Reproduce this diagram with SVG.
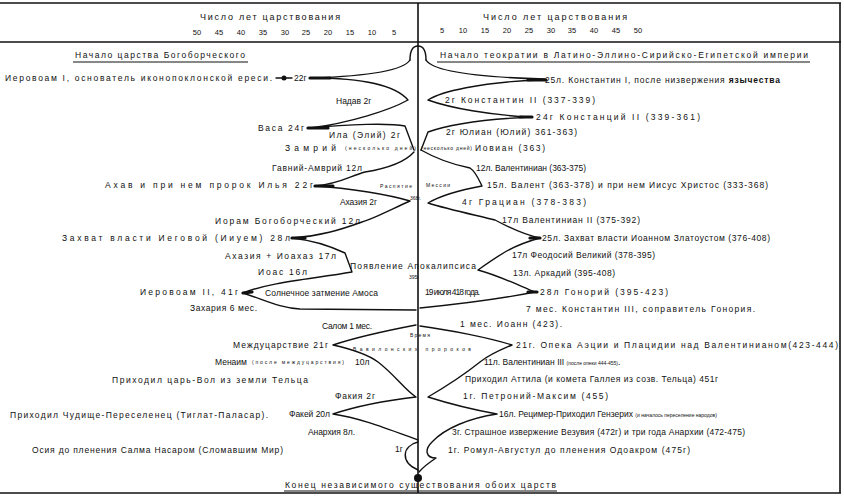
<svg xmlns="http://www.w3.org/2000/svg" width="844" height="502" viewBox="0 0 844 502">
<style>
text{font-family:"Liberation Sans",Arial,sans-serif;font-size:8.5px;fill:#111;}
.h{font-size:9px;}
.n{font-size:7.5px;text-anchor:middle;}
.s{font-size:5px;}
.b{font-weight:bold;}
.frame{stroke:#111;stroke-width:1.6;fill:none;}
.ln{stroke:#111;stroke-width:1.4;fill:none;stroke-linecap:round;stroke-linejoin:round;}
.stub{stroke:#111;stroke-width:3.2;fill:none;stroke-linecap:round;}
.ul{stroke:#111;stroke-width:1.2;}
</style>
<rect width="844" height="502" fill="#fff"/>

<g id="frame">
<line class="frame" x1="0" y1="3" x2="841" y2="3"/>
<line class="frame" x1="0" y1="42" x2="841" y2="42"/>
<line class="frame" x1="0" y1="493" x2="841" y2="493"/>
<line class="frame" x1="840" y1="3" x2="840" y2="493"/>
<line class="frame" x1="418" y1="3" x2="418" y2="493" stroke-width="1.2"/>
</g>

<g id="scale-left">
<text class="h" x="200" y="20" textLength="140" lengthAdjust="spacing">Число лет царствования</text>
<text class="n" x="197" y="35">50</text><text class="n" x="219" y="35">45</text><text class="n" x="241" y="35">40</text><text class="n" x="263" y="35">35</text><text class="n" x="285" y="35">30</text><text class="n" x="306" y="35">25</text><text class="n" x="328" y="35">20</text><text class="n" x="350" y="35">15</text><text class="n" x="372" y="35">10</text><text class="n" x="394" y="35">5</text>
</g>
<g id="scale-right">
<text class="h" x="483" y="20" textLength="144" lengthAdjust="spacing">Число лет царствования</text>
<text class="n" x="442" y="33">5</text><text class="n" x="463" y="33">10</text><text class="n" x="485" y="33">15</text><text class="n" x="507" y="33">20</text><text class="n" x="529" y="33">25</text><text class="n" x="551" y="33">30</text><text class="n" x="572" y="33">35</text><text class="n" x="594" y="33">40</text><text class="n" x="616" y="33">45</text><text class="n" x="638" y="33">50</text>
</g>

<g id="head-left">
<text x="75" y="58" textLength="170" lengthAdjust="spacing">Начало царства Богоборческого</text>
<line class="ul" x1="73" y1="62" x2="248" y2="62"/>
</g>
<g id="head-right">
<text x="440" y="58" textLength="368" lengthAdjust="spacing">Начало теократии в Латино-Эллино-Сирийско-Египетской империи</text>
<line class="ul" x1="437" y1="62" x2="810" y2="62"/>
</g>

<g id="connectors">
<path class="ln" d="M410,60 C410,50 413,46 418,46 C423,46 426,50 426,60"/>
<!-- left outline -->
<path class="ln" d="M410,60 C404,70 370,76 312,78"/>
<path class="ln" d="M312,78 C365,78 396,86 408,100 C390,110 350,123 310,128 C350,124 390,123 405,126 L414,150"/>
<path class="ln" d="M414,152 C405,162 390,168 365,172 C350,176 340,184 315,186 C350,188 390,195 410,201 C390,210 375,218 362,222 C340,230 320,236 292,238 C310,240 330,246 345,253 L352,272 C312,279 270,282 243,293 C265,300 280,308 300,309 L416,310"/>
<path class="ln" d="M416,325 C395,329 360,336 333,345 C355,350 370,356 378,362 C395,375 405,390 416,397 C390,400 360,405 333,414 C360,418 385,428 418,440"/>
<path class="ln" d="M418,442 C402,446 400,462 418,470"/>
<!-- right outline -->
<path class="ln" d="M426,60 C432,70 470,77 545,79"/>
<path class="ln" d="M540,80 C480,82 440,92 428,100 C450,108 490,115 530,117 C490,119 450,124 428,132 L421,150"/>
<path class="ln" d="M421,150 C435,158 455,165 470,168 C476,172 479,180 482,186 C460,190 440,196 428,203 C450,210 480,216 495,220 C510,228 525,235 540,238 C525,242 512,248 505,252 C495,258 485,265 478,270 C500,276 520,286 535,292 C500,299 450,305 420,308"/>
<path class="ln" d="M420,326 C450,330 490,338 512,345 C495,352 485,358 480,362 C460,378 440,390 428,397 C450,404 475,410 497,414 C470,418 445,428 432,442 C424,450 426,458 436,458 C430,462 424,466 419,472"/>
<!-- thick stubs -->
<line class="stub" x1="310" y1="78" x2="330" y2="78"/>
<line class="stub" x1="308" y1="128" x2="328" y2="128"/>
<line class="stub" x1="315" y1="186" x2="333" y2="186"/>
<line class="stub" x1="292" y1="238" x2="305" y2="238"/>
<line class="stub" x1="243" y1="293" x2="252" y2="292"/>
<line class="stub" x1="528" y1="80" x2="546" y2="80"/>
<line class="stub" x1="520" y1="117" x2="532" y2="117"/>
<line class="stub" x1="530" y1="238" x2="540" y2="238"/>
<line class="stub" x1="528" y1="292" x2="537" y2="292"/>
<!-- Jeroboam dot line -->
<line class="ln" x1="276" y1="78" x2="292" y2="78"/>
<circle cx="284" cy="78" r="2.5" fill="#111"/>
<circle cx="418" cy="478" r="4" fill="#111"/>
</g>

<g id="n-jeroboam1"><text x="5" y="81" textLength="267" lengthAdjust="spacing">Иеровоам I, основатель иконопоклонской ереси.</text><text x="294" y="81">22г</text></g>
<g id="n-nadab"><text x="336" y="104">Надав 2г</text></g>
<g id="n-baasha"><text x="258" y="131" textLength="46" lengthAdjust="spacing">Васа 24г</text></g>
<g id="n-elah"><text x="329" y="138" textLength="71" lengthAdjust="spacing">Ила (Элий) 2г</text></g>
<g id="n-zimri"><text x="285" y="151" textLength="51" lengthAdjust="spacing">Замрий</text><text class="s" x="345" y="150" textLength="71" lengthAdjust="spacing">(несколько дней)</text></g>
<g id="n-omri"><text x="272" y="171" textLength="90" lengthAdjust="spacing">Гавний-Амврий 12л</text></g>
<g id="n-ahab"><text x="105" y="188" textLength="208" lengthAdjust="spacing">Ахав и при нем пророк Илья 22г</text></g>
<g id="n-ahaziah"><text x="340" y="205" textLength="37" lengthAdjust="spacing">Ахазия 2г</text></g>
<g id="n-joram"><text x="215" y="224" textLength="145" lengthAdjust="spacing">Иорам Богоборческий 12л</text></g>
<g id="n-jehu"><text x="62" y="241" textLength="228" lengthAdjust="spacing">Захват власти Иеговой (Ииуем) 28л</text></g>
<g id="n-jehoahaz"><text x="225" y="259" textLength="111" lengthAdjust="spacing">Ахазия + Иоахаз 17л</text></g>
<g id="n-joash"><text x="258" y="275" textLength="49" lengthAdjust="spacing">Иоас 16л</text></g>
<g id="n-jeroboam2"><text x="140" y="295" textLength="98" lengthAdjust="spacing">Иеровоам II, 41г</text></g>
<g id="n-zechariah"><text x="190" y="311" textLength="67" lengthAdjust="spacing">Захария 6 мес.</text></g>
<g id="n-shallum"><text x="322" y="329" textLength="50" lengthAdjust="spacing">Салом 1 мес.</text></g>
<g id="n-interregnum"><text x="233" y="348" textLength="95" lengthAdjust="spacing">Междуцарствие 21г</text></g>
<g id="n-menahem"><text x="215" y="365">Менаим</text><text class="s" x="252" y="364" textLength="92" lengthAdjust="spacing">(после междуцарствия)</text><text x="355" y="365">10л</text></g>
<g id="n-bull"><text x="112" y="383" textLength="196" lengthAdjust="spacing">Приходил царь-Вол из земли Тельца</text></g>
<g id="n-pekahiah"><text x="335" y="399" textLength="40" lengthAdjust="spacing">Факия 2г</text></g>
<g id="n-tiglath"><text x="10" y="418" textLength="258" lengthAdjust="spacing">Приходил Чудище-Переселенец (Тиглат-Паласар).</text></g>
<g id="n-pekah"><text x="289" y="417" textLength="41" lengthAdjust="spacing">Факей 20л</text></g>
<g id="n-anarchy"><text x="308" y="435" textLength="47" lengthAdjust="spacing">Анархия 8л.</text></g>
<g id="n-hoshea"><text x="32" y="453" textLength="251" lengthAdjust="spacing">Осия до пленения Салма Насаром (Сломавшим Мир)</text><text x="395" y="452">1г</text></g>

<g id="n-constantine1"><text x="545" y="83" textLength="235" lengthAdjust="spacing">25л. Константин I, после низвержения <tspan class="b">язычества</tspan></text></g>
<g id="n-constantine2"><text x="445" y="103" textLength="150" lengthAdjust="spacing">2г Константин II (337-339)</text></g>
<g id="n-constantius"><text x="536" y="120" textLength="164" lengthAdjust="spacing">24г Констанций II (339-361)</text></g>
<g id="n-julian"><text x="446" y="135" textLength="131" lengthAdjust="spacing">2г Юлиан (Юлий) 361-363)</text></g>
<g id="n-jovian"><text class="s" x="421" y="150" textLength="51" lengthAdjust="spacing">(несколько дней)</text><text x="475" y="151" textLength="70" lengthAdjust="spacing">Иовиан (363)</text></g>
<g id="n-valentinian"><text x="476" y="171" textLength="110" lengthAdjust="spacing">12л. Валентиниан (363-375)</text></g>
<g id="n-valens"><text x="487" y="188" textLength="281" lengthAdjust="spacing">15л. Валент (363-378) и при нем Иисус Христос (333-368)</text></g>
<g id="n-gratian"><text x="462" y="205" textLength="124" lengthAdjust="spacing">4г Грациан (378-383)</text></g>
<g id="n-valentinian2"><text x="502" y="223" textLength="138" lengthAdjust="spacing">17л Валентиниан II (375-392)</text></g>
<g id="n-chrysostom"><text x="542" y="241" textLength="228" lengthAdjust="spacing">25л. Захват власти Иоанном Златоустом (376-408)</text></g>
<g id="n-theodosius"><text x="512" y="258" textLength="143" lengthAdjust="spacing">17л Феодосий Великий (378-395)</text></g>
<g id="n-arcadius"><text x="513" y="276" textLength="102" lengthAdjust="spacing">13л. Аркадий (395-408)</text></g>
<g id="n-honorius"><text x="540" y="295" textLength="128" lengthAdjust="spacing">28л Гонорий (395-423)</text></g>
<g id="n-constantine3"><text x="526" y="312" textLength="229" lengthAdjust="spacing">7 мес. Константин III, соправитель Гонория.</text></g>
<g id="n-ioann"><text x="460" y="327" textLength="102" lengthAdjust="spacing">1 мес. Иоанн (423).</text></g>
<g id="n-aetius"><text x="516" y="348" textLength="322" lengthAdjust="spacing">21г. Опека Аэции и Плацидии над Валентинианом(423-444)</text></g>
<g id="n-valentinian3"><text x="484" y="365">11л. Валентиниан III <tspan class="s">(после опеки 444-455)</tspan>.</text></g>
<g id="n-attila"><text x="465" y="382" textLength="253" lengthAdjust="spacing">Приходил Аттила (и комета Галлея из созв. Тельца) 451г</text></g>
<g id="n-petronius"><text x="463" y="399" textLength="145" lengthAdjust="spacing">1г. Петроний-Максим (455)</text></g>
<g id="n-ricimer"><text x="499" y="417">16л. Рецимер-Приходил Гензерих <tspan class="s">(и началось переселение народов)</tspan></text></g>
<g id="n-vesuvius"><text x="452" y="435" textLength="293" lengthAdjust="spacing">3г. Страшное извержение Везувия (472г) и три года Анархии (472-475)</text></g>
<g id="n-romulus"><text x="448" y="453" textLength="242" lengthAdjust="spacing">1г. Ромул-Августул до пленения Одоакром (475г)</text></g>

<g id="center-labels">
<text class="s" x="380" y="188" textLength="32" lengthAdjust="spacing">Распятие</text>
<text class="s" x="426" y="187" textLength="24" lengthAdjust="spacing">Мессии</text>
<text class="s" x="410" y="200">368г.</text>
<text x="350" y="269" textLength="126" lengthAdjust="spacing" font-size="7">Появление Апокалипсиса</text>
<text class="s" x="409" y="279">395г</text>
<text x="265" y="296" textLength="113" lengthAdjust="spacing" font-size="7">Солнечное затмение Амоса</text>
<text x="425" y="295" textLength="55" lengthAdjust="spacing" font-size="6">19 июля 418 года.</text>
<text class="s" x="410" y="337" textLength="20" lengthAdjust="spacing">Время</text>
<text class="s" x="353" y="351" textLength="118" lengthAdjust="spacing">Вавилонских пророков</text>
</g>

<g id="end">
<text x="285" y="488" textLength="271" lengthAdjust="spacing" font-size="7.5">Конец независимого существования обоих царств</text>
<line class="ul" x1="284" y1="491" x2="557" y2="491"/>
</g>
</svg>
